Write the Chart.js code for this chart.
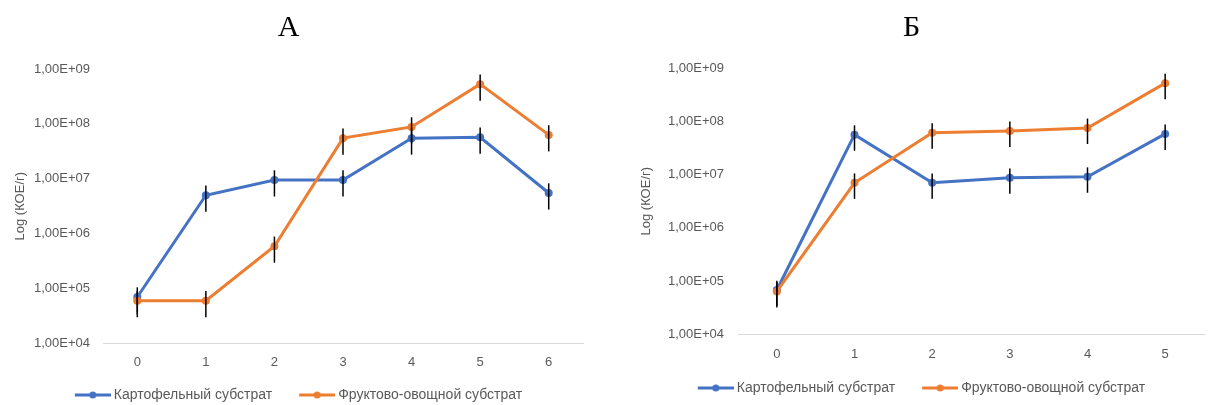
<!DOCTYPE html>
<html>
<head>
<meta charset="utf-8">
<title>КОЕ</title>
<script src="https://cdn.jsdelivr.net/npm/chart.js@4.4.1/dist/chart.umd.min.js"></script>
<style>
  html, body { margin: 0; padding: 0; background: #fff; width: 1208px; height: 405px; overflow: hidden; }
  .box { position: absolute; top: 0; }
</style>
</head>
<body>
<div class="box" style="left:0px"><canvas id="chartA" width="600" height="412"></canvas></div>
<div class="box" style="left:618px"><canvas id="chartB" width="590" height="405"></canvas></div>
<script>
const seriesNames = ['Картофельный субстрат', 'Фруктово-овощной субстрат'];
const yTicks = [1e4, 1e5, 1e6, 1e7, 1e8, 1e9];

// panel А
const daysA = ['0', '1', '2', '3', '4', '5', '6'];
const potatoA = [7.0e4, 5.0e6, 9.5e6, 9.5e6, 5.5e7, 5.7e7, 5.5e6];
const fruitA = [6.0e4, 6.0e4, 5.9e5, 5.5e7, 8.8e7, 5.3e8, 6.3e7];

// panel Б
const daysB = ['0', '1', '2', '3', '4', '5'];
const potatoB = [6.8e4, 5.6e7, 7.0e6, 8.7e6, 9.1e6, 5.8e7];
const fruitB = [6.4e4, 7.0e6, 6.1e7, 6.6e7, 7.5e7, 5.2e8];

// relative error shown by the black bars
const errFrac = 0.5;

const blue = '#4472C4';
const orange = '#ED7D31';

Chart.defaults.font.family = "'Liberation Sans', Arial, sans-serif";
Chart.defaults.color = '#595959';

// line + dot legend marker, drawn to the right side of the box
function legendIcon(color) {
  const c = document.createElement('canvas');
  c.width = 60;
  c.height = 10;
  const ctx = c.getContext('2d');
  ctx.strokeStyle = color;
  ctx.lineWidth = 3;
  ctx.beginPath();
  ctx.moveTo(24, 5);
  ctx.lineTo(60, 5);
  ctx.stroke();
  ctx.fillStyle = color;
  ctx.beginPath();
  ctx.arc(42, 5, 3.5, 0, Math.PI * 2);
  ctx.fill();
  return c;
}
const icons = [legendIcon(blue), legendIcon(orange)];

const errorBars = {
  id: 'errorBars',
  afterDatasetsDraw(chart) {
    const ctx = chart.ctx;
    const y = chart.scales.y;
    ctx.save();
    ctx.strokeStyle = '#000';
    ctx.lineWidth = 1.5;
    chart.data.datasets.forEach((ds, i) => {
      const meta = chart.getDatasetMeta(i);
      meta.data.forEach((pt, j) => {
        const v = ds.data[j];
        const top = y.getPixelForValue(v * (1 + errFrac));
        const bottom = y.getPixelForValue(v * (1 - errFrac));
        ctx.beginPath();
        ctx.moveTo(pt.x, top);
        ctx.lineTo(pt.x, bottom);
        ctx.stroke();
      });
    });
    ctx.restore();
  },
};

function dataset(label, data, color, order) {
  return {
    label,
    data,
    borderColor: color,
    backgroundColor: color,
    borderWidth: 3,
    pointRadius: 4,
    pointBorderWidth: 0,
    pointBackgroundColor: color,
    tension: 0,
    order,
  };
}

function makeChart(id, title, days, potato, fruit, lay) {
  return new Chart(document.getElementById(id), {
    type: 'line',
    data: {
      labels: days,
      datasets: [
        dataset(seriesNames[0], potato, blue, 1),
        dataset(seriesNames[1], fruit, orange, 0),
      ],
    },
    options: {
      responsive: false,
      animation: false,
      layout: { padding: { left: lay.padLeft, right: lay.padRight, top: 0, bottom: 0 } },
      plugins: {
        title: {
          display: true,
          text: title,
          color: '#000',
          font: { family: "'Liberation Serif', 'Times New Roman', serif", size: 30, weight: 'normal' },
          padding: { top: 10, bottom: lay.titleBottom },
        },
        legend: {
          position: 'bottom',
          labels: {
            usePointStyle: true,
            pointStyleWidth: 52,
            padding: 7,
            color: '#595959',
            font: { size: 14 },
            generateLabels(chart) {
              const items = Chart.defaults.plugins.legend.labels.generateLabels(chart);
              items.forEach((it) => { it.pointStyle = icons[it.datasetIndex]; });
              return items;
            },
            sort: (a, b) => a.datasetIndex - b.datasetIndex,
          },
        },
        tooltip: { enabled: false },
      },
      scales: {
        x: {
          offset: true,
          grid: { display: false, drawTicks: false },
          border: { display: true, color: '#d9d9d9', width: 1 },
          ticks: { padding: lay.xPad, font: { size: 13 }, color: '#595959' },
        },
        y: {
          type: 'logarithmic',
          min: yTicks[0],
          max: yTicks[yTicks.length - 1],
          grid: { display: false, drawTicks: false },
          border: { display: false },
          afterBuildTicks: (s) => { s.ticks = yTicks.map((v) => ({ value: v })); },
          afterFit: (s) => { s.width = lay.yWidth; },
          ticks: {
            padding: lay.yPad,
            font: { size: 13 },
            color: '#595959',
            callback: (v) => '1,00E+' + String(Math.round(Math.log10(v))).padStart(2, '0'),
          },
          title: {
            display: true,
            text: 'Log (КОЕ/г)',
            color: '#595959',
            font: { size: 13 },
            padding: { top: lay.titlePad, bottom: 0 },
          },
        },
      },
    },
    plugins: [errorBars],
  });
}

makeChart('chartA', 'А', daysA, potatoA, fruitA,
  { padLeft: -6, padRight: 17, titleBottom: 23, xPad: 11, yWidth: 109, yPad: 13, titlePad: 19 });
makeChart('chartB', 'Б', daysB, potatoB, fruitB,
  { padLeft: 0, padRight: 3, titleBottom: 22, xPad: 12, yWidth: 120, yPad: 14, titlePad: 21 });
</script>
</body>
</html>
